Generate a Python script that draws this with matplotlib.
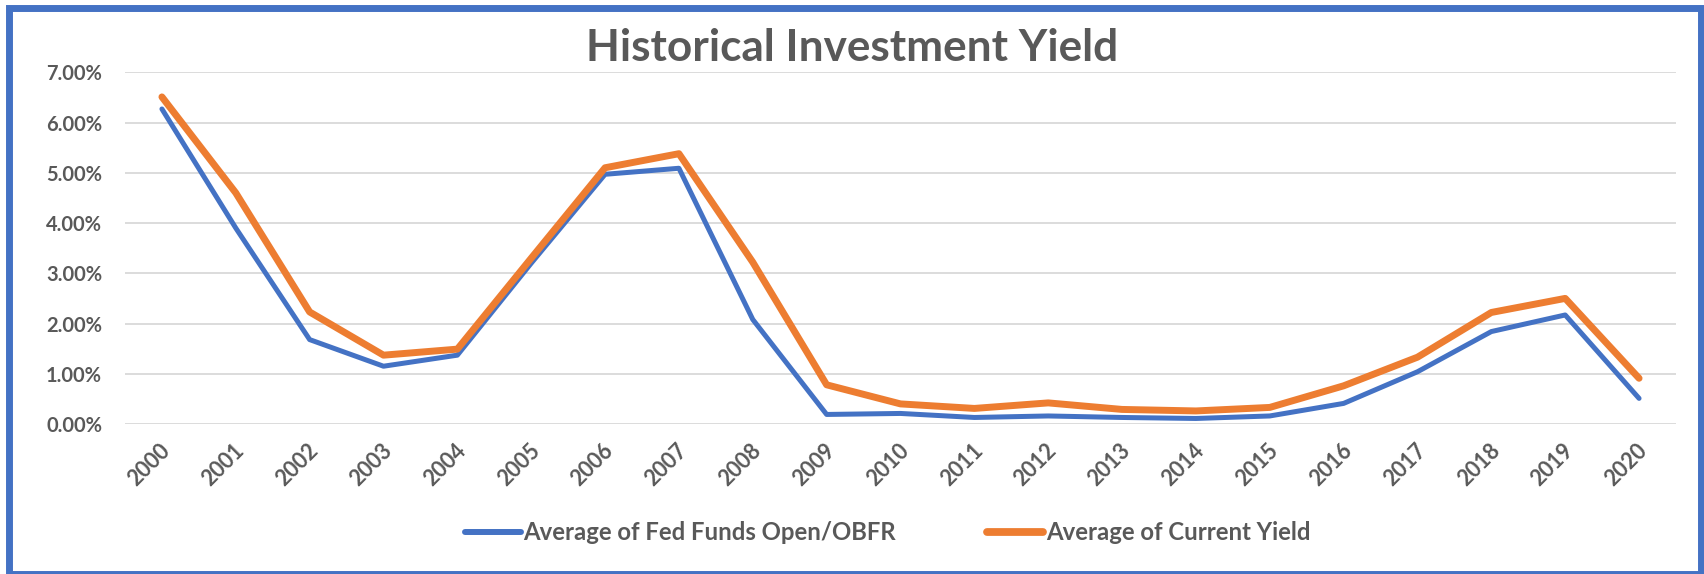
import matplotlib
matplotlib.use("Agg")
import matplotlib.pyplot as plt
import matplotlib.transforms as mtransforms
from matplotlib.patches import Rectangle
from matplotlib.ticker import PercentFormatter

plt.rcParams['font.family'] = ['Lato', 'DejaVu Sans']

# yearly averages, in percent
years = [str(y) for y in range(2000, 2021)]
fed_funds = [6.27, 3.90, 1.68, 1.15, 1.37, 3.20, 4.97, 5.09, 2.08, 0.19, 0.21,
             0.13, 0.16, 0.13, 0.11, 0.16, 0.41, 1.04, 1.84, 2.17, 0.51]
current_yield = [6.51, 4.60, 2.23, 1.37, 1.49, 3.30, 5.10, 5.38, 3.22, 0.78, 0.40,
                 0.31, 0.42, 0.29, 0.26, 0.33, 0.76, 1.33, 2.22, 2.50, 0.91]

blue = '#4472C4'
orange = '#ED7D31'
grey = '#595959'

W, H = 1704, 574
fig = plt.figure(figsize=(W / 100, H / 100), dpi=100)
ax = fig.add_axes([125 / W, 1 - 424 / H, (1676 - 125) / W, (424 - 72.3) / H])

x = list(range(len(years)))
ax.plot(x, fed_funds, color=blue, lw=3.6, solid_capstyle='round',
        solid_joinstyle='round', label='Average of Fed Funds Open/OBFR')
ax.plot(x, current_yield, color=orange, lw=5.0, solid_capstyle='round',
        solid_joinstyle='round', label='Average of Current Yield')

ax.set_xlim(-0.5, len(years) - 0.5)
ax.set_ylim(0, 7)
ax.set_yticks(range(0, 8))
ax.yaxis.set_major_formatter(PercentFormatter(decimals=2))
ax.set_xticks(x)
ax.set_xticklabels(years)
ax.grid(axis='y', color='#D9D9D9', lw=1.3)
ax.set_axisbelow(True)
for s in ax.spines.values():
    s.set_visible(False)
ax.tick_params(axis='both', length=0, colors=grey)
ax.tick_params(axis='y', pad=16.5, labelsize=14.5)
ax.tick_params(axis='x', pad=17, labelsize=15.5)
for lbl in ax.get_xticklabels() + ax.get_yticklabels():
    lbl.set_fontweight('bold')
shift = mtransforms.ScaledTranslation(5 / 100, 0, fig.dpi_scale_trans)
for lbl in ax.get_xticklabels():
    lbl.set_rotation(45)
    lbl.set_rotation_mode('anchor')
    lbl.set_ha('right')
    lbl.set_va('center')
    lbl.set_transform(lbl.get_transform() + shift)

fig.text(0.5, 1 - 61 / H, 'Historical Investment Yield', ha='center', va='baseline',
         fontsize=31.8, fontweight='bold', color=grey)

leg = fig.legend(loc='center', bbox_to_anchor=(887.5 / W, 1 - 533 / H), ncol=2,
                 frameon=False, fontsize=17.2, handlelength=2.35, handletextpad=0.12,
                 columnspacing=3.8)
for t in leg.get_texts():
    t.set_color(grey)
    t.set_fontweight('bold')
leg.get_lines()[0].set_linewidth(4.3)
leg.get_lines()[1].set_linewidth(5.6)
for ln in leg.get_lines():
    ln.set_solid_capstyle('round')

# outer chart border
fig.patches.append(Rectangle((9.1 / W, 1 - 573.5 / H), (1700.5 - 9.1) / W, (573.5 - 7.5) / H,
                             transform=fig.transFigure, fill=False, edgecolor=blue,
                             lw=5, clip_on=False))

fig.savefig('out.png', dpi=100)
